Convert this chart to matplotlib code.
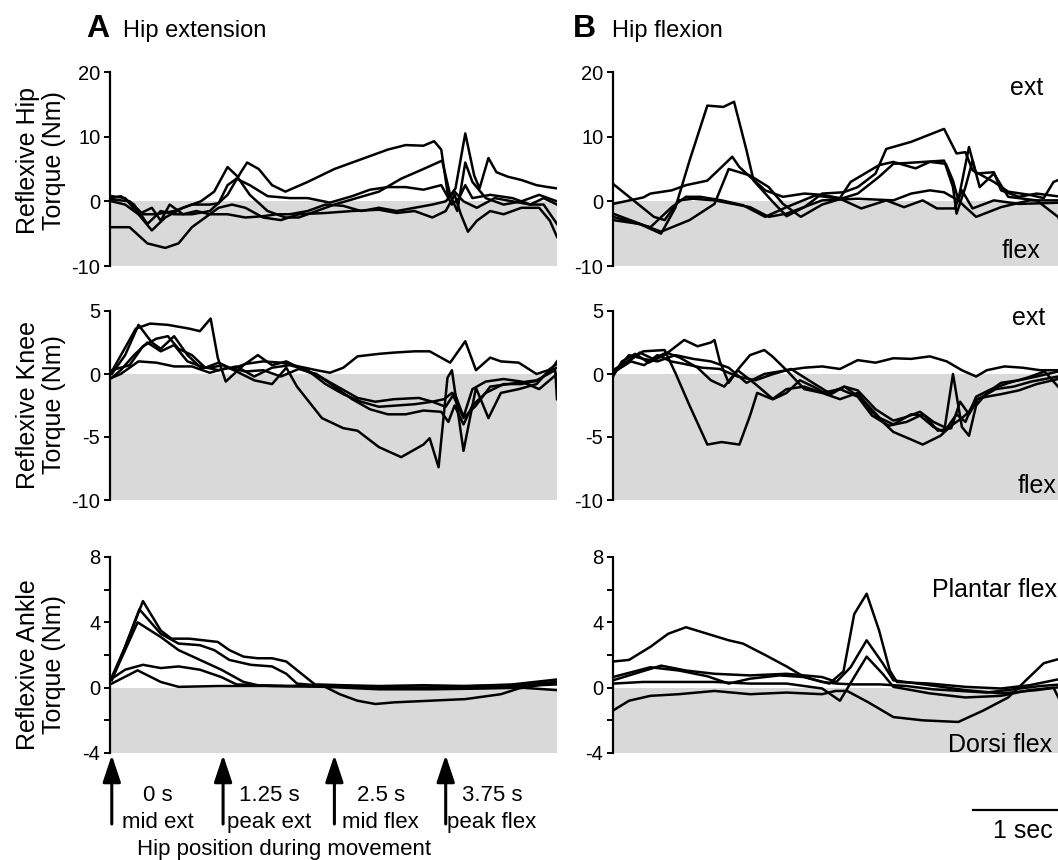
import matplotlib
matplotlib.use("Agg")
import matplotlib.pyplot as plt
from matplotlib.transforms import blended_transform_factory

plt.rcParams['font.family'] = ['Liberation Sans', 'DejaVu Sans']
plt.rcParams['axes.unicode_minus'] = False

# ---------------- DATA (time in s, torque in Nm) ----------------
# Panel A: hip extension perturbation -- reflexive hip torque
hipA_1 = [(0,0.5),(0.1,0.8),(0.25,-0.5),(0.4,-3.5),(0.55,-1.5),(0.7,-2),(0.9,-2),(1.1,-1.5),(1.3,1),(1.45,4.5),
          (1.52,6),(1.65,5),(1.8,2.5),(1.95,1.5),(2.2,3),(2.5,5),(2.8,6.5),(3.1,8),(3.3,8.7),(3.5,8.6),(3.62,9.3),
          (3.7,8),(3.78,0.5),(3.86,2),(3.97,10.5),(4.07,4),(4.13,2),(4.23,6.7),(4.32,4.5),(4.45,3.8),(4.6,3.3),
          (4.77,2.5),(4.9,2.2),(5.0,2.0)]
hipA_2 = [(0,0.8),(0.15,0.5),(0.3,-2),(0.45,-4.5),(0.6,-2.5),(0.8,-1),(1.0,0),(1.15,1.5),(1.3,5.3),(1.4,4),
          (1.55,1),(1.75,-1.5),(1.95,-2.5),(2.1,-2.5),(2.3,-1.5),(2.5,-0.5),(2.75,0.5),(3.0,1.5),(3.25,3.5),
          (3.5,5),(3.71,6.3),(3.8,1),(3.88,-1.5),(3.97,6),(4.05,3),(4.2,0.5),(4.4,-0.5),(4.6,0),(4.8,1),(5.0,0)]
hipA_3 = [(0,0.3),(0.2,0),(0.35,-2),(0.5,-2),(0.7,-1.5),(0.9,-0.5),(1.1,-0.5),(1.2,-0.3),(1.3,2.5),(1.4,3.5),
          (1.55,2.5),(1.75,0.8),(2.0,0.5),(2.2,0.5),(2.45,-0.2),(2.7,0.8),(2.9,1.8),(3.1,2.2),(3.3,2.2),(3.5,1.8),
          (3.7,2.5),(3.82,-0.5),(3.9,0.5),(3.97,2.5),(4.05,0.5),(4.25,1),(4.5,0.5),(4.7,-0.5),(4.85,-0.5),(5.0,-3.5)]
hipA_4 = [(0,-4),(0.2,-4),(0.4,-6.5),(0.6,-7.2),(0.75,-6.5),(0.9,-4),(1.05,-2.5),(1.2,-1),(1.35,-0.5),(1.5,-1),
          (1.7,-2.5),(1.9,-2.9),(2.1,-2),(2.4,-1.8),(2.7,-1.5),(3.0,-1.3),(3.2,-1.8),(3.4,-1.5),(3.6,-2.5),
          (3.75,-1.5),(3.85,1),(3.92,-2),(4.0,-4.7),(4.1,-3),(4.25,-1.5),(4.4,-2),(4.6,-1),(4.8,-1),(4.92,-3),(5.0,-5.5)]
hipA_5 = [(0,0),(0.15,-0.5),(0.3,-2),(0.45,-1),(0.55,-3),(0.65,-0.5),(0.8,-2),(0.95,-1.5),(1.1,-2),(1.3,-2),
          (1.5,-2.5),(1.7,-2.3),(1.85,-2),(2.0,-2),(2.2,-1.5),(2.4,-0.5),(2.6,-0.7),(2.8,-1.5),(3.0,-1),(3.2,-1.5),
          (3.4,-1),(3.6,-0.5),(3.75,0),(3.85,1.5),(3.95,0),(4.1,-1),(4.3,0.5),(4.5,0),(4.7,-0.5),(4.85,0.5),(5.0,-0.5)]

# Panel B: hip flexion perturbation -- reflexive hip torque
hipB_1 = [(0,-2.9),(0.3,-3.5),(0.54,-5),(0.7,-1),(0.86,6.3),(1.06,14.8),(1.24,14.6),(1.36,15.4),(1.5,7.9),
          (1.58,3.2),(1.79,0),(1.95,-2.3),(2.15,-0.9),(2.35,1.2),(2.59,1.4),(2.75,2.2),(2.95,4.3),(3.07,8.1),
          (3.35,9.2),(3.72,11.2),(3.86,7.4),(3.96,7.6),(4.04,4.8),(4.28,3),(4.44,1.5),(4.68,1),(4.84,0.5),
          (4.95,3.0),(5.04,3.5)]
hipB_2 = [(0,-0.4),(0.34,0.6),(0.42,1.2),(0.66,1.7),(0.82,2.5),(1.06,3.2),(1.22,5.3),(1.34,6.9),(1.42,5.3),
          (1.54,3.8),(1.71,1.7),(1.91,0.7),(2.15,1.2),(2.35,1.0),(2.55,0.5),(2.67,3.0),(2.99,5.6),(3.15,6.1),
          (3.40,5.1),(3.56,6.1),(3.74,5.8),(3.82,3.2),(3.88,0.2),(4.0,8.4),(4.08,4.3),(4.28,4.5),(4.36,1.7),
          (4.56,0.7),(4.76,1.2),(5.04,0.7)]
hipB_3 = [(0,-1.9),(0.54,-4.7),(0.86,-2.9),(1.14,-0.4),(1.30,5.0),(1.54,4.0),(1.75,2.2),(1.91,-0.4),(2.11,-2.4),
          (2.35,-0.5),(2.75,1.2),(2.99,3.8),(3.15,5.8),(3.72,6.3),(3.82,2.2),(3.86,-1.9),(3.96,2.2),(4.04,6.3),
          (4.12,2.2),(4.28,4.3),(4.44,0.7),(4.76,0.15),(5.0,-2.4),(5.04,-3.5)]
hipB_4 = [(0,2.7),(0.46,-2.4),(0.58,-2.9),(0.74,0.15),(0.9,0.4),(1.14,0.15),(1.54,-0.9),(1.75,-2.4),(1.95,-1.9),
          (2.35,0.15),(2.75,0.4),(3.15,0.15),(3.35,1.2),(3.56,1.7),(3.72,1.4),(3.88,0.15),(3.96,-0.9),(4.08,-2.4),
          (4.36,-0.9),(4.68,0.15),(5.04,0.15)]
hipB_5 = [(0,-2.4),(0.42,-4.0),(0.66,-0.9),(0.82,0.7),(0.98,0.7),(1.22,0.15),(1.46,-0.6),(1.71,-2.4),(1.95,-0.9),
          (2.27,0.9),(2.55,0.4),(2.79,-1.1),(3.07,0.15),(3.27,-0.9),(3.48,0.15),(3.64,-1.1),(3.84,-1.1),(3.92,1.7),
          (4.04,-1.1),(4.28,0.15),(4.56,-0.4),(5.04,-0.2)]

# Panel A: reflexive knee torque
kneeA_1 = [(0,0.2),(0.27,3.6),(0.43,4.0),(0.63,3.9),(0.87,3.6),(0.99,3.4),(1.11,4.4),(1.19,1.3),(1.28,-0.6),
           (1.48,0.7),(1.64,1.5),(1.8,0.7),(1.96,1.0),(2.16,0.3),(2.36,-0.3),(2.56,-1.1),(2.76,-1.9),(2.96,-2.2),
           (3.17,-2.0),(3.45,-1.9),(3.6,-2.2),(3.73,-2.0),(3.82,-1.5),(3.95,-3.5),(4.09,-2.5),(4.25,-1.0),
           (4.45,-0.8),(4.77,-0.5),(4.98,0.3),(5.0,-2.0)]
kneeA_2 = [(0,0),(0.15,1.5),(0.3,3.9),(0.45,2.5),(0.55,2.0),(0.7,3.0),(0.85,1.5),(1.0,0.5),(1.1,0.5),(1.25,0.7),
           (1.4,0.2),(1.6,-0.5),(1.8,-0.8),(1.96,0.5),(2.08,-1.0),(2.36,-3.5),(2.6,-4.3),(2.76,-4.5),(3.0,-5.8),
           (3.25,-6.6),(3.4,-6.0),(3.5,-5.6),(3.57,-5.1),(3.67,-7.4),(3.77,-0.3),(3.82,0.3),(3.95,-6.1),(4.09,-1.1),
           (4.23,-3.5),(4.37,-1.5),(4.57,-1.2),(4.77,-0.8),(4.9,0.2),(5.0,0.5)]
kneeA_3 = [(0,0.3),(0.2,0.7),(0.35,2.2),(0.5,2.8),(0.63,3.0),(0.75,2.0),(0.9,1.5),(1.05,0.5),(1.2,0.9),(1.35,0.4),
           (1.5,0.8),(1.7,1.0),(1.9,0.9),(2.1,0.6),(2.3,0.3),(2.45,0.1),(2.6,0.5),(2.76,1.4),(3.0,1.6),(3.17,1.7),
           (3.4,1.8),(3.57,1.8),(3.8,0.9),(3.97,2.6),(4.09,0.3),(4.25,1.3),(4.37,1.0),(4.57,0.9),(4.77,0.0),
           (4.9,0.3),(5.0,0.8)]
kneeA_4 = [(0,-0.3),(0.1,0.3),(0.25,1.5),(0.4,2.5),(0.55,1.8),(0.7,2.3),(0.85,1.0),(1.0,0.6),(1.2,0.3),(1.4,0.6),
           (1.6,-0.2),(1.8,0.5),(2.0,0.7),(2.2,0.3),(2.4,-0.8),(2.6,-1.6),(2.8,-2.2),(3.0,-2.6),(3.2,-2.5),
           (3.4,-2.4),(3.6,-2.2),(3.75,-2.6),(3.85,-1.5),(3.95,-3.4),(4.05,-1.2),(4.2,-0.6),(4.4,-0.4),(4.6,-0.6),
           (4.8,-1.2),(5.0,0.0)]
kneeA_5 = [(0,-0.3),(0.1,0.0),(0.3,1.0),(0.5,0.9),(0.7,0.6),(0.9,0.6),(1.1,0.1),(1.3,0.5),(1.5,0.2),(1.7,0.3),
           (1.9,-0.2),(2.1,0.4),(2.3,0.0),(2.5,-1.0),(2.7,-2.0),(2.9,-2.8),(3.1,-3.2),(3.3,-3.2),(3.5,-2.9),
           (3.7,-3.0),(3.78,-3.8),(3.85,-2.5),(3.95,-4.0),(4.05,-2.5),(4.2,-1.5),(4.4,-0.8),(4.6,-0.8),(4.8,-0.5),
           (4.95,0.5),(5.0,1.0)]

# Panel B: reflexive knee torque
kneeB_1 = [(0,0.3),(0.18,1.1),(0.34,1.8),(0.58,1.9),(0.7,0.1),(0.86,-2.5),(1.06,-5.6),(1.22,-5.4),(1.42,-5.6),
           (1.54,-3.3),(1.62,-1.5),(1.79,-2.0),(1.95,-1.2),(2.15,-1.0),(2.35,-1.5),(2.55,-2.0),(2.75,-1.5),
           (2.91,-3.0),(3.15,-4.6),(3.35,-5.2),(3.48,-5.6),(3.68,-4.9),(3.8,-4.1),(3.92,-3.5),(4.0,-3.0),
           (4.08,-2.0),(4.2,-1.8),(4.36,-1.6),(4.56,-1.3),(4.76,-0.8),(5.0,-0.4)]
kneeB_2 = [(0,0.0),(0.18,1.5),(0.34,1.2),(0.5,1.0),(0.7,1.5),(0.9,1.2),(1.1,1.0),(1.3,0.5),(1.5,-0.7),(1.7,0.0),
           (1.95,0.3),(2.15,0.5),(2.35,0.6),(2.55,0.4),(2.75,1.1),(2.95,0.9),(3.15,1.25),(3.35,1.2),(3.56,1.4),
           (3.75,1.0),(3.92,0.3),(4.08,-0.2),(4.2,0.3),(4.4,0.6),(4.6,0.5),(4.8,0.3),(5.0,0.3)]
kneeB_3 = [(0,-0.2),(0.1,1.0),(0.25,1.6),(0.4,0.9),(0.58,1.5),(0.8,2.7),(0.95,2.2),(1.1,2.5),(1.14,2.7),(1.2,1.0),
           (1.3,-0.7),(1.42,0.5),(1.54,1.5),(1.7,1.9),(1.79,1.4),(1.95,0.3),(2.15,-1.2),(2.35,-1.5),(2.55,-1.2),
           (2.75,-1.8),(2.91,-3.3),(3.1,-4.1),(3.3,-3.8),(3.45,-3.3),(3.6,-4.2),(3.72,-4.6),(3.82,0.0),(3.92,-4.2),
           (4.0,-4.9),(4.08,-2.5),(4.2,-1.5),(4.36,-0.7),(4.56,-0.5),(4.76,-0.2),(5.0,0.2)]
kneeB_4 = [(0,0.2),(0.15,0.8),(0.3,1.7),(0.45,1.2),(0.6,1.7),(0.75,1.3),(0.95,0.5),(1.1,-0.5),(1.25,-1.0),
           (1.4,0.3),(1.6,-0.8),(1.8,-2.0),(1.95,-1.5),(2.1,-0.5),(2.25,-1.0),(2.4,-1.6),(2.6,-1.0),(2.8,-2.0),
           (3.0,-3.5),(3.15,-4.0),(3.35,-3.2),(3.5,-3.3),(3.65,-4.5),(3.8,-4.3),(3.9,-2.2),(4.0,-3.2),(4.1,-2.0),
           (4.3,-1.2),(4.5,-1.0),(4.7,-0.6),(5.0,-0.2)]
kneeB_5 = [(0,0.1),(0.2,1.0),(0.35,0.7),(0.5,1.5),(0.65,1.0),(0.8,0.8),(1.0,0.5),(1.2,0.4),(1.4,-0.2),(1.6,-0.5),
           (1.8,0.0),(2.0,0.4),(2.2,-0.5),(2.45,-1.6),(2.6,-1.0),(2.75,-1.3),(2.95,-2.8),(3.15,-3.7),(3.3,-3.4),
           (3.45,-3.0),(3.6,-3.8),(3.75,-4.3),(3.86,-3.2),(3.96,-3.8),(4.08,-1.8),(4.25,-1.2),(4.45,-0.7),
           (4.65,-0.3),(4.85,0.2),(5.0,-1.0)]

# Panel A: reflexive ankle torque
ankA_1 = [(0,0.45),(0.15,2.5),(0.35,5.3),(0.55,3.5),(0.67,3.0),(0.87,3.0),(1.03,2.9),(1.19,2.8),(1.32,2.3),
          (1.48,1.9),(1.64,1.8),(1.8,1.8),(1.96,1.6),(2.12,0.9),(2.28,0.2),(2.6,0.15),(3.0,0.1),(3.5,0.15),
          (4.0,0.1),(4.5,0.15),(5.0,0.35)]
ankA_2 = [(0,0.65),(0.15,2.5),(0.31,4.8),(0.55,3.3),(0.75,2.7),(0.99,2.6),(1.15,2.3),(1.32,1.7),(1.56,1.4),
          (1.8,1.3),(1.96,0.85),(2.08,0.25),(2.4,0.1),(3.0,0.05),(3.5,0.0),(4.0,0.1),(4.5,0.2),(5.0,0.5)]
ankA_3 = [(0,0.5),(0.15,2.3),(0.29,4.0),(0.55,3.1),(0.75,2.3),(0.99,1.7),(1.23,1.1),(1.48,0.35),(1.64,0.15),
          (2.0,0.1),(2.36,0.15),(2.56,-0.4),(2.76,-0.8),(2.96,-1.0),(3.17,-0.9),(3.57,-0.8),(3.97,-0.7),
          (4.37,-0.4),(4.57,-0.05),(5.0,0.35)]
ankA_4 = [(0,0.55),(0.15,1.1),(0.35,1.4),(0.55,1.2),(0.75,1.3),(0.99,1.1),(1.23,0.65),(1.4,0.2),(1.8,0.1),
          (2.4,0.1),(3.0,0.0),(3.6,0.0),(4.2,0.05),(4.6,0.1),(5.0,0.2)]
ankA_5 = [(0,0.25),(0.29,1.06),(0.55,0.35),(0.75,0.05),(1.2,0.1),(1.8,0.1),(2.4,0.05),(3.0,-0.1),(3.6,-0.1),
          (4.2,-0.05),(4.6,0.0),(5.0,-0.15)]

# Panel B: reflexive ankle torque
ankB_1 = [(0,1.6),(0.18,1.7),(0.42,2.5),(0.62,3.3),(0.82,3.7),(1.06,3.3),(1.30,2.9),(1.46,2.7),(1.71,2.0),
          (1.95,1.3),(2.15,0.65),(2.35,0.35),(2.51,0.25),(2.7,0.2),(3.0,0.2),(3.3,0.1),(3.6,-0.1),(3.9,-0.2),
          (4.2,-0.3),(4.5,-0.1),(4.8,0.1),(5.04,0.2)]
ankB_2 = [(0,0.65),(0.42,1.25),(0.74,1.05),(1.06,0.7),(1.30,0.25),(1.54,0.55),(1.87,0.75),(2.15,0.65),(2.43,0.25),
          (2.59,1.0),(2.71,4.5),(2.85,5.75),(2.99,3.5),(3.11,1.05),(3.19,0.35),(3.56,0.25),(3.96,0.05),
          (4.36,-0.05),(4.68,0.15),(5.04,0.55)]
ankB_3 = [(0,0.45),(0.54,1.35),(0.82,1.05),(1.14,0.85),(1.54,0.75),(1.95,0.85),(2.35,0.65),(2.51,0.35),
          (2.67,1.25),(2.85,2.9),(3.03,1.5),(3.15,0.45),(3.56,0.15),(3.96,-0.15),(4.36,-0.35),(4.76,-0.15),(5.04,0.05)]
ankB_4 = [(0,0.25),(0.34,0.35),(1.14,0.35),(1.54,0.25),(1.95,0.25),(2.35,-0.05),(2.55,-0.8),(2.71,0.65),
          (2.85,1.9),(3.03,0.85),(3.15,0.05),(3.56,-0.35),(3.96,-0.6),(4.36,-0.5),(4.68,-0.15),(4.95,0.0),(5.04,-1.0)]
ankB_5 = [(0,-1.4),(0.18,-0.8),(0.42,-0.5),(0.74,-0.4),(1.14,-0.2),(1.54,-0.4),(1.95,-0.3),(2.35,-0.4),
          (2.5,-0.2),(2.63,-0.2),(2.87,-0.9),(3.15,-1.8),(3.48,-2.0),(3.88,-2.1),(4.16,-1.4),(4.44,-0.6),
          (4.64,0.45),(4.84,1.5),(5.04,1.8)]

panel_traces = {
    (0, 0): [hipA_1, hipA_2, hipA_3, hipA_4, hipA_5],
    (0, 1): [hipB_1, hipB_2, hipB_3, hipB_4, hipB_5],
    (1, 0): [kneeA_1, kneeA_2, kneeA_3, kneeA_4, kneeA_5],
    (1, 1): [kneeB_1, kneeB_2, kneeB_3, kneeB_4, kneeB_5],
    (2, 0): [ankA_1, ankA_2, ankA_3, ankA_4, ankA_5],
    (2, 1): [ankB_1, ankB_2, ankB_3, ankB_4, ankB_5],
}

row_ylims = [(-10, 20), (-10, 5), (-4, 8)]
row_major_ticks = [[-10, 0, 10, 20], [-10, -5, 0, 5], [-4, 0, 4, 8]]
row_minor_ticks = [[], [], [-2, 2, 6]]
row_ylabels = ["Reflexive Hip\nTorque (Nm)", "Reflexive Knee\nTorque (Nm)", "Reflexive Ankle\nTorque (Nm)"]
col_titles = [("A", "Hip extension"), ("B", "Hip flexion")]
col_xlims = [(-0.02, 5.0), (0.0, 5.0)]
right_labels = [("ext", "flex"), ("ext", "flex"), ("Plantar flex", "Dorsi flex")]

arrow_times = [0, 1.25, 2.5, 3.75]
arrow_time_labels = ["0 s", "1.25 s", "2.5 s", "3.75 s"]
arrow_phase_labels = ["mid ext", "peak ext", "mid flex", "peak flex"]
scale_bar_start, scale_bar_len = 4.05, 1.0

# ---------------- LAYOUT ----------------
W, H = 1058, 860
fig = plt.figure(figsize=(W / 100, H / 100), dpi=100)

def fx(px):
    return px / W

def fy(py):
    return 1 - py / H

row_px = [(72, 266), (311, 500), (557, 753)]
col_px = [(110, 557), (613, 1058)]
GRAY = '#d9d9d9'

axes = {}
for r in range(3):
    for c in range(2):
        (top, bot), (left, right) = row_px[r], col_px[c]
        ax = fig.add_axes([fx(left), fy(bot), fx(right - left), (bot - top) / H])
        axes[(r, c)] = ax
        lo, hi = row_ylims[r]
        ax.set_ylim(lo, hi)
        ax.set_xlim(*col_xlims[c])
        ax.axhspan(lo, 0, color=GRAY, lw=0, zorder=0)
        for tr in panel_traces[(r, c)]:
            ts = [p[0] for p in tr]
            vs = [p[1] for p in tr]
            ax.plot(ts, vs, color='black', lw=1.8, zorder=2, solid_joinstyle='round')
        for s in ['top', 'right', 'bottom']:
            ax.spines[s].set_visible(False)
        ax.spines['left'].set_linewidth(1.6)
        ax.spines['left'].set_zorder(3)
        ax.set_xticks([])
        ax.set_yticks(row_major_ticks[r])
        ax.set_yticks(row_minor_ticks[r], minor=True)
        ax.tick_params(axis='y', which='both', direction='out', length=4, width=1.4,
                       labelsize=14.5, pad=3)
        ax.patch.set_alpha(0)

# y labels
ylabel_centers = [161, 405, 665]
for r in range(3):
    fig.text(fx(41), fy(ylabel_centers[r]), row_ylabels[r], rotation=90, ha='center',
             va='center', multialignment='center', fontsize=18, linespacing=1.15)

# titles
title_x = [(86, 123), (573, 612)]
for c in range(2):
    letter, name = col_titles[c]
    fig.text(fx(title_x[c][0]), fy(37), letter, fontsize=23, fontweight='bold', va='baseline')
    fig.text(fx(title_x[c][1]), fy(37), name, fontsize=17, va='baseline')

# right-side labels for panel B
rl_pos = [((1043, 95), (1041, 258)), ((1045, 325), (1057, 493)), ((1057, 597), (1052, 752))]
for r in range(3):
    (x1, y1), (x2, y2) = rl_pos[r]
    fig.text(fx(x1), fy(y1), right_labels[r][0], ha='right', va='baseline', fontsize=18)
    fig.text(fx(x2), fy(y2), right_labels[r][1], ha='right', va='baseline', fontsize=18)

# arrows and labels under panel A
axA = axes[(2, 0)]
trA = blended_transform_factory(axA.transData, fig.transFigure)
for t, tl, pl in zip(arrow_times, arrow_time_labels, arrow_phase_labels):
    axA.annotate('', xy=(t, fy(755)), xycoords=trA, xytext=(t, fy(824)), textcoords=trA,
                 arrowprops=dict(arrowstyle='-|>,head_length=1.65,head_width=0.55', mutation_scale=10,
                                 lw=2.2, color='black', shrinkA=0, shrinkB=0),
                 annotation_clip=False)
    axA.text(t + 0.52, fy(801), tl, transform=trA, ha='center', va='baseline', fontsize=16)
    axA.text(t + 0.52, fy(828), pl, transform=trA, ha='center', va='baseline', fontsize=16)
axA.text(1.93, fy(855), "Hip position during movement", transform=trA, ha='center', va='baseline',
         fontsize=16)

# 1 sec scale bar under panel B
axB = axes[(2, 1)]
trB = blended_transform_factory(axB.transData, fig.transFigure)
axB.plot([scale_bar_start, scale_bar_start + scale_bar_len], [fy(810), fy(810)], transform=trB,
         color='black', lw=1.6, clip_on=False)
axB.text(4.6, fy(838), "1 sec", transform=trB, ha='center', va='baseline', fontsize=18)

fig.savefig('out.png', dpi=100)
